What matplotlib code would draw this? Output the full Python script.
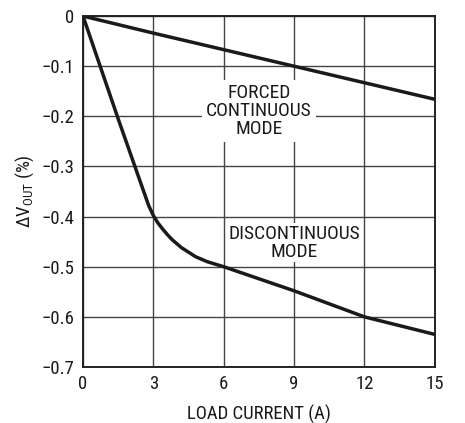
import matplotlib
matplotlib.use("Agg")
import matplotlib.pyplot as plt

plt.rcParams['font.family'] = ['Roboto Condensed', 'DejaVu Sans']
plt.rcParams['mathtext.fontset'] = 'custom'
plt.rcParams['mathtext.rm'] = 'Roboto Condensed'

# Data
forced_x = [0, 3, 6, 9, 12, 15]
forced_y = [0, -0.034, -0.067, -0.100, -0.133, -0.166]
disc_x = [0, 1.5, 2.8, 3.0, 3.2, 3.4, 3.6, 3.8, 4.2, 4.8, 5.3, 6, 9, 12, 15]
disc_y = [0, -0.205, -0.378, -0.398, -0.413, -0.425, -0.436, -0.446, -0.462, -0.480, -0.490, -0.500, -0.548, -0.600, -0.635]
xticks = [0, 3, 6, 9, 12, 15]
yticks = [0, -0.1, -0.2, -0.3, -0.4, -0.5, -0.6, -0.7]
ytick_labels = ["0", "\u22120.1", "\u22120.2", "\u22120.3", "\u22120.4", "\u22120.5", "\u22120.6", "\u22120.7"]

fig = plt.figure(figsize=(4.65, 4.23), dpi=100)
ax = fig.add_axes([0.1785, 0.1324, 0.7565, 0.8296])
ax.set_xlim(0, 15)
ax.set_ylim(-0.7, 0)
ax.set_xticks(xticks)
ax.set_yticks(yticks)
ax.set_yticklabels(ytick_labels)
ax.tick_params(length=0, labelsize=13.5, pad=6, colors='#1a1a1a')
ax.grid(True, color='#444444', linewidth=1.0)
ax.set_axisbelow(True)
for s in ax.spines.values():
    s.set_linewidth(1.4)
    s.set_color('#222222')

ax.plot(forced_x, forced_y, color='#1a1a1a', linewidth=2.5, solid_capstyle='butt', zorder=3)
ax.plot(disc_x, disc_y, color='#1a1a1a', linewidth=2.5, solid_capstyle='butt', zorder=3)

ax.text(7.5, -0.19, "FORCED\nCONTINUOUS\nMODE", ha='center', va='center', fontsize=14,
        linespacing=1.0, color='#1a1a1a', zorder=2,
        bbox=dict(facecolor='white', edgecolor='none', pad=3))
ax.text(9.0, -0.452, "DISCONTINUOUS\nMODE", ha='center', va='center', fontsize=14,
        linespacing=1.0, color='#1a1a1a', zorder=2,
        bbox=dict(facecolor='white', edgecolor='none', pad=1))

ax.set_xlabel("LOAD CURRENT (A)", fontsize=13.5, color='#1a1a1a', labelpad=8)
ax.set_ylabel("\u0394V$_{\\mathregular{OUT}}$ (%)", fontsize=13.5, color='#1a1a1a', labelpad=4)

fig.savefig("out.png", dpi=100)
